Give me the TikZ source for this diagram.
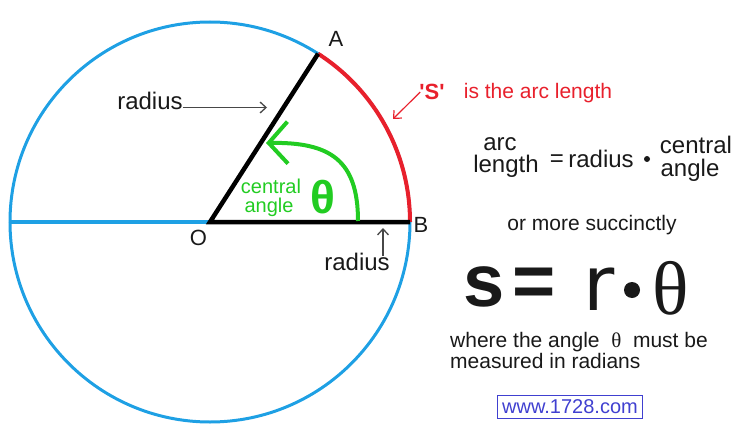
\documentclass[tikz,border=0pt]{standalone}
\usepackage{fontspec}
\setmainfont{Liberation Sans}
\newfontfamily\serifth{Liberation Serif}
\newfontfamily\dejavu{DejaVu Sans}
\usetikzlibrary{arrows.meta}
\definecolor{circblue}{RGB}{30,160,228}
\definecolor{arcred}{RGB}{232,32,44}
\definecolor{anggreen}{RGB}{34,204,34}
\definecolor{linkblue}{RGB}{64,64,208}
\definecolor{txt}{RGB}{25,25,25}
\newcommand{\fsz}[1]{\fontsize{#1}{#1}\selectfont}
\begin{document}
\begin{tikzpicture}[x=1pt,y=-1pt,
  lbl/.style={inner sep=0pt,text=txt},
  ptr/.style={draw=txt!80,line width=1.3pt,-{Straight Barb[length=6pt,width=11pt]}},
  redptr/.style={draw=arcred,line width=1.2pt,-{Straight Barb[length=6pt,width=11pt]}},
  grn/.style={inner sep=0pt,text=anggreen},
  dotmark/.style={circle,fill=txt,inner sep=0pt}
]
\useasboundingbox (0,0) rectangle (752,436);
% geometry
\coordinate (O) at (210,222);
\coordinate (B) at (410,222);
\coordinate (A) at (318.1,53.7);
\coordinate (L) at (10,222);
\draw[circblue,line width=3pt] (O) circle[radius=200];
\draw[circblue,line width=4pt] (L) -- (O);
\draw[arcred,line width=4pt] (B) arc[start angle=0,end angle=-57.3,radius=200];
\draw[black,line width=4.5pt] (A) -- (O) -- (B);
% green angle arrow
\coordinate (gs) at (358,221);
\coordinate (ge) at (266,143);
\draw[anggreen,line width=4pt,-{Straight Barb[length=19pt,width=42pt]}]
  (gs) .. controls (358,160) and (330,142) .. (ge);
% point labels
\node[lbl,font=\fsz{22}] (Alab) at (336,38.5) {A};
\node[lbl,font=\fsz{22}] (Blab) at (421,224.5) {B};
\node[lbl,font=\fsz{22}] (Olab) at (198.5,237.5) {O};
% radius labels
\node[lbl,font=\fsz{24}] (r1) at (150,100.5) {radius};
\coordinate (r1tip) at (267,107.5);
\draw[ptr] (r1.base east |- r1tip) -- (r1tip);
\node[lbl,font=\fsz{24}] (r2) at (357,262) {radius};
\coordinate (r2tip) at (383,228);
\draw[ptr] ([yshift=-3pt]r2.north -| r2tip) -- (r2tip);
% central angle label
\node[grn,font=\fsz{20}] (cen) at (271,186.5) {central};
\node[grn,font=\fsz{20}] (ang) at (269,207.5) {angle};
\node[grn,font=\fsz{46}\bfseries] (gth) at (323,197) {θ};
% S arc length
\node[inner sep=0pt,text=arcred,font=\fsz{22}\bfseries] (S) at (432,92) {\textquotesingle S\textquotesingle};
\node[inner sep=0pt,text=arcred,font=\fsz{21}] (isarc) at (538,93) {is the arc length};
\coordinate (Stip) at (393,119);
\draw[redptr] ([xshift=1pt]S.west) -- (Stip);
% word formula
\node[lbl,font=\fsz{24}] (farc) at (500,144) {arc};
\node[lbl,font=\fsz{24}] (flen) at (506,166.5) {length};
\node[lbl,font=\fsz{24}] (feq) at (557,161) {=};
\node[lbl,font=\fsz{24}] (frad) at (601,158.5) {radius};
\node[dotmark,minimum size=6pt] (fdot) at (647,159) {};
\node[lbl,font=\fsz{24}] (fcen) at (696,144.5) {central};
\node[lbl,font=\fsz{24}] (fang) at (690,170) {angle};
\node[lbl,font=\fsz{21}] (succ) at (592,225) {or more succinctly};
% big formula
\node[lbl,font=\fsz{74}\bfseries] (bs) at (484,287) {s};
\node[lbl,font=\fsz{74}\bfseries] (beq) at (534,287) {=};
\node[lbl,font=\dejavu\fsz{76}] (br) at (599,289) {r};
\node[dotmark,minimum size=16pt] (bdot) at (632,290) {};
\node[lbl,font=\serifth\fsz{76}] (bth) at (671,288) {θ};
% note
\node[lbl,font=\fsz{21},anchor=base west] (w1) at (450,347) {where the angle \ {\serifth θ}\ \ must be};
\node[lbl,font=\fsz{21},anchor=base west] (w2) at (450,368) {measured in radians};
% link box
\node[draw=linkblue,line width=1.5pt,text=linkblue,font=\fsz{20},minimum width=145pt,minimum height=23pt,inner sep=0pt] (www) at (570,407) {www.1728.com};
\end{tikzpicture}
\end{document}
